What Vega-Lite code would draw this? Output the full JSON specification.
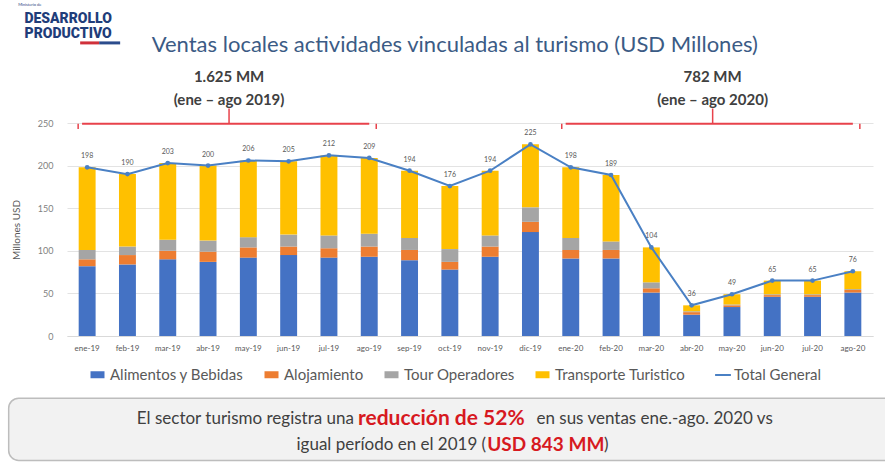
{
  "$schema": "https://vega.github.io/schema/vega-lite/v6.json",
  "width": 806,
  "height": 213,
  "autosize": {"type": "none"},
  "padding": {"left": 67, "top": 123, "right": 12, "bottom": 128},
  "background": "white",
  "config": {
    "font": "Lato",
    "view": {"stroke": null},
    "axis": {"labelFont": "Lato", "titleFont": "Lato"},
    "legend": {"labelFont": "Lato"}
  },
  "datasets": {
    "ventas": [
      {"mes": "ene-19", "categoria": "Alimentos y Bebidas", "valor": 82},
      {"mes": "ene-19", "categoria": "Alojamiento", "valor": 8},
      {"mes": "ene-19", "categoria": "Tour Operadores", "valor": 11},
      {"mes": "ene-19", "categoria": "Transporte Turistico", "valor": 97},
      {"mes": "feb-19", "categoria": "Alimentos y Bebidas", "valor": 84},
      {"mes": "feb-19", "categoria": "Alojamiento", "valor": 11},
      {"mes": "feb-19", "categoria": "Tour Operadores", "valor": 10},
      {"mes": "feb-19", "categoria": "Transporte Turistico", "valor": 85},
      {"mes": "mar-19", "categoria": "Alimentos y Bebidas", "valor": 90},
      {"mes": "mar-19", "categoria": "Alojamiento", "valor": 10},
      {"mes": "mar-19", "categoria": "Tour Operadores", "valor": 13},
      {"mes": "mar-19", "categoria": "Transporte Turistico", "valor": 90},
      {"mes": "abr-19", "categoria": "Alimentos y Bebidas", "valor": 87},
      {"mes": "abr-19", "categoria": "Alojamiento", "valor": 12},
      {"mes": "abr-19", "categoria": "Tour Operadores", "valor": 13},
      {"mes": "abr-19", "categoria": "Transporte Turistico", "valor": 88},
      {"mes": "may-19", "categoria": "Alimentos y Bebidas", "valor": 92},
      {"mes": "may-19", "categoria": "Alojamiento", "valor": 12},
      {"mes": "may-19", "categoria": "Tour Operadores", "valor": 12},
      {"mes": "may-19", "categoria": "Transporte Turistico", "valor": 90},
      {"mes": "jun-19", "categoria": "Alimentos y Bebidas", "valor": 95},
      {"mes": "jun-19", "categoria": "Alojamiento", "valor": 10},
      {"mes": "jun-19", "categoria": "Tour Operadores", "valor": 14},
      {"mes": "jun-19", "categoria": "Transporte Turistico", "valor": 86},
      {"mes": "jul-19", "categoria": "Alimentos y Bebidas", "valor": 92},
      {"mes": "jul-19", "categoria": "Alojamiento", "valor": 11},
      {"mes": "jul-19", "categoria": "Tour Operadores", "valor": 15},
      {"mes": "jul-19", "categoria": "Transporte Turistico", "valor": 94},
      {"mes": "ago-19", "categoria": "Alimentos y Bebidas", "valor": 93},
      {"mes": "ago-19", "categoria": "Alojamiento", "valor": 12},
      {"mes": "ago-19", "categoria": "Tour Operadores", "valor": 15},
      {"mes": "ago-19", "categoria": "Transporte Turistico", "valor": 89},
      {"mes": "sep-19", "categoria": "Alimentos y Bebidas", "valor": 89},
      {"mes": "sep-19", "categoria": "Alojamiento", "valor": 12},
      {"mes": "sep-19", "categoria": "Tour Operadores", "valor": 14},
      {"mes": "sep-19", "categoria": "Transporte Turistico", "valor": 79},
      {"mes": "oct-19", "categoria": "Alimentos y Bebidas", "valor": 78},
      {"mes": "oct-19", "categoria": "Alojamiento", "valor": 9},
      {"mes": "oct-19", "categoria": "Tour Operadores", "valor": 15},
      {"mes": "oct-19", "categoria": "Transporte Turistico", "valor": 74},
      {"mes": "nov-19", "categoria": "Alimentos y Bebidas", "valor": 93},
      {"mes": "nov-19", "categoria": "Alojamiento", "valor": 12},
      {"mes": "nov-19", "categoria": "Tour Operadores", "valor": 13},
      {"mes": "nov-19", "categoria": "Transporte Turistico", "valor": 76},
      {"mes": "dic-19", "categoria": "Alimentos y Bebidas", "valor": 122},
      {"mes": "dic-19", "categoria": "Alojamiento", "valor": 12},
      {"mes": "dic-19", "categoria": "Tour Operadores", "valor": 17},
      {"mes": "dic-19", "categoria": "Transporte Turistico", "valor": 74},
      {"mes": "ene-20", "categoria": "Alimentos y Bebidas", "valor": 91},
      {"mes": "ene-20", "categoria": "Alojamiento", "valor": 10},
      {"mes": "ene-20", "categoria": "Tour Operadores", "valor": 14},
      {"mes": "ene-20", "categoria": "Transporte Turistico", "valor": 83},
      {"mes": "feb-20", "categoria": "Alimentos y Bebidas", "valor": 91},
      {"mes": "feb-20", "categoria": "Alojamiento", "valor": 10},
      {"mes": "feb-20", "categoria": "Tour Operadores", "valor": 10},
      {"mes": "feb-20", "categoria": "Transporte Turistico", "valor": 78},
      {"mes": "mar-20", "categoria": "Alimentos y Bebidas", "valor": 51},
      {"mes": "mar-20", "categoria": "Alojamiento", "valor": 5},
      {"mes": "mar-20", "categoria": "Tour Operadores", "valor": 7},
      {"mes": "mar-20", "categoria": "Transporte Turistico", "valor": 41},
      {"mes": "abr-20", "categoria": "Alimentos y Bebidas", "valor": 25},
      {"mes": "abr-20", "categoria": "Alojamiento", "valor": 3},
      {"mes": "abr-20", "categoria": "Tour Operadores", "valor": 1},
      {"mes": "abr-20", "categoria": "Transporte Turistico", "valor": 7},
      {"mes": "may-20", "categoria": "Alimentos y Bebidas", "valor": 34},
      {"mes": "may-20", "categoria": "Alojamiento", "valor": 2},
      {"mes": "may-20", "categoria": "Tour Operadores", "valor": 1},
      {"mes": "may-20", "categoria": "Transporte Turistico", "valor": 12},
      {"mes": "jun-20", "categoria": "Alimentos y Bebidas", "valor": 46},
      {"mes": "jun-20", "categoria": "Alojamiento", "valor": 2},
      {"mes": "jun-20", "categoria": "Tour Operadores", "valor": 1},
      {"mes": "jun-20", "categoria": "Transporte Turistico", "valor": 16},
      {"mes": "jul-20", "categoria": "Alimentos y Bebidas", "valor": 46},
      {"mes": "jul-20", "categoria": "Alojamiento", "valor": 2},
      {"mes": "jul-20", "categoria": "Tour Operadores", "valor": 1},
      {"mes": "jul-20", "categoria": "Transporte Turistico", "valor": 16},
      {"mes": "ago-20", "categoria": "Alimentos y Bebidas", "valor": 51},
      {"mes": "ago-20", "categoria": "Alojamiento", "valor": 3},
      {"mes": "ago-20", "categoria": "Tour Operadores", "valor": 1},
      {"mes": "ago-20", "categoria": "Transporte Turistico", "valor": 21}
    ],
    "totales": [
      {"mes": "ene-19", "total": 198},
      {"mes": "feb-19", "total": 190},
      {"mes": "mar-19", "total": 203},
      {"mes": "abr-19", "total": 200},
      {"mes": "may-19", "total": 206},
      {"mes": "jun-19", "total": 205},
      {"mes": "jul-19", "total": 212},
      {"mes": "ago-19", "total": 209},
      {"mes": "sep-19", "total": 194},
      {"mes": "oct-19", "total": 176},
      {"mes": "nov-19", "total": 194},
      {"mes": "dic-19", "total": 225},
      {"mes": "ene-20", "total": 198},
      {"mes": "feb-20", "total": 189},
      {"mes": "mar-20", "total": 104},
      {"mes": "abr-20", "total": 36},
      {"mes": "may-20", "total": 49},
      {"mes": "jun-20", "total": 65},
      {"mes": "jul-20", "total": 65},
      {"mes": "ago-20", "total": 76}
    ],
    "periodos": [
      {"inicio": "ene-19", "fin": "ago-19", "medio": "abr-19", "monto": "1.625 MM", "rango": "(ene – ago 2019)"},
      {"inicio": "ene-20", "fin": "ago-20", "medio": "abr-20", "monto": "782 MM", "rango": "(ene – ago 2020)"}
    ],
    "uno": [{}]
  },
  "encoding": {
    "x": {
      "field": "mes",
      "type": "nominal",
      "scale": {
        "domain": ["ene-19","feb-19","mar-19","abr-19","may-19","jun-19","jul-19","ago-19","sep-19","oct-19","nov-19","dic-19","ene-20","feb-20","mar-20","abr-20","may-20","jun-20","jul-20","ago-20"],
        "paddingInner": 0.58, "paddingOuter": 0.29
      },
      "axis": {
        "title": null,
        "labelAngle": 0,
        "labelFontSize": 8,
        "labelColor": "#595959",
        "ticks": false,
        "labelPadding": 8,
        "domainColor": "#d9d9d9",
        "grid": false
      }
    }
  },
  "layer": [
    {
      "data": {"name": "ventas"},
      "mark": {"type": "bar"},
      "encoding": {
        "y": {
          "field": "valor",
          "type": "quantitative",
          "aggregate": "sum",
          "stack": "zero",
          "scale": {"domain": [0, 250], "nice": false},
          "axis": {
            "title": "Millones USD",
            "titleFontSize": 10,
            "titleFontWeight": "normal",
            "titleColor": "#595959",
            "titlePadding": 16,
            "values": [0, 50, 100, 150, 200, 250],
            "labelFontSize": 9,
            "labelColor": "#7f7f7f",
            "labelPadding": 14,
            "ticks": false,
            "domain": false,
            "gridColor": "#e3e3e3",
            "gridWidth": 1
          }
        },
        "order": {"field": "categoria", "sort": "ascending"},
        "color": {
          "field": "categoria",
          "type": "nominal",
          "scale": {
            "domain": ["Alimentos y Bebidas", "Alojamiento", "Tour Operadores", "Transporte Turistico"],
            "range": ["#4472C4", "#ED7D31", "#A5A5A5", "#FFC000"]
          },
          "legend": {
            "title": null,
            "orient": "none",
            "direction": "horizontal",
            "legendX": 23,
            "legendY": 244,
            "symbolType": "M-1,-0.5L1,-0.5L1,0.5L-1,0.5Z",
            "symbolSize": 196,
            "symbolStrokeWidth": 0,
            "labelFontSize": 15,
            "labelColor": "#595959",
            "labelOffset": 5,
            "columnPadding": 20
          }
        }
      }
    },
    {
      "data": {"name": "totales"},
      "mark": {"type": "line", "strokeWidth": 2},
      "encoding": {
        "y": {"field": "total", "type": "quantitative", "scale": {"domain": [0, 250], "nice": false}},
        "stroke": {
          "datum": "Total General",
          "scale": {"range": ["#4a80c4"]},
          "legend": {
            "title": null,
            "orient": "none",
            "legendX": 647,
            "legendY": 243,
            "symbolType": "stroke",
            "symbolSize": 250,
            "symbolStrokeWidth": 2,
            "labelFontSize": 15,
            "labelColor": "#595959",
            "labelOffset": 2
          }
        }
      }
    },
    {
      "data": {"name": "totales"},
      "mark": {"type": "point", "filled": true, "size": 22, "color": "#4a80c4", "opacity": 1},
      "encoding": {
        "y": {"field": "total", "type": "quantitative", "scale": {"domain": [0, 250], "nice": false}}
      }
    },
    {
      "data": {"name": "totales"},
      "mark": {"type": "text", "dy": -11, "fontSize": 7, "color": "#595959"},
      "encoding": {
        "y": {"field": "total", "type": "quantitative", "scale": {"domain": [0, 250], "nice": false}},
        "text": {"field": "total", "type": "quantitative"}
      }
    },
    {
      "data": {"name": "periodos"},
      "mark": {"type": "rule", "color": "#e8424b", "strokeWidth": 2},
      "encoding": {
        "x": {"field": "inicio", "type": "nominal", "bandPosition": 0.2},
        "x2": {"field": "fin"},
        "y": {"datum": 249, "scale": {"domain": [0, 250], "nice": false}}
      }
    },
    {
      "data": {"name": "periodos"},
      "mark": {"type": "rule", "color": "#e8424b", "strokeWidth": 1.5, "xOffset": -9},
      "encoding": {
        "x": {"field": "inicio", "type": "nominal"},
        "y": {"datum": 249, "scale": {"domain": [0, 250], "nice": false}},
        "y2": {"datum": 243}
      }
    },
    {
      "data": {"name": "periodos"},
      "mark": {"type": "rule", "color": "#e8424b", "strokeWidth": 1.5, "xOffset": 7},
      "encoding": {
        "x": {"field": "fin", "type": "nominal"},
        "y": {"datum": 249, "scale": {"domain": [0, 250], "nice": false}},
        "y2": {"datum": 243}
      }
    },
    {
      "data": {"name": "periodos"},
      "mark": {"type": "rule", "color": "#e8424b", "strokeWidth": 1.5, "xOffset": 21},
      "encoding": {
        "x": {"field": "medio", "type": "nominal"},
        "y": {"datum": 249, "scale": {"domain": [0, 250], "nice": false}},
        "y2": {"datum": 267}
      }
    },
    {
      "data": {"name": "periodos"},
      "mark": {"type": "text", "fontSize": 15, "fontWeight": "bold", "color": "#404040", "dx": 21, "baseline": "middle"},
      "encoding": {
        "x": {"field": "medio", "type": "nominal"},
        "y": {"datum": 304, "scale": {"domain": [0, 250], "nice": false}},
        "text": {"field": "monto"}
      }
    },
    {
      "data": {"name": "periodos"},
      "mark": {"type": "text", "fontSize": 15, "fontWeight": "bold", "color": "#404040", "dx": 21, "baseline": "middle"},
      "encoding": {
        "x": {"field": "medio", "type": "nominal"},
        "y": {"datum": 277, "scale": {"domain": [0, 250], "nice": false}},
        "text": {"field": "rango"}
      }
    },
    {
      "data": {"name": "uno"},
      "mark": {"type": "text", "fontSize": 22, "color": "#3b5b85", "dx": 5, "baseline": "middle", "fontWeight": "normal"},
      "encoding": {
        "x": {"datum": "oct-19"},
        "y": {"datum": 341, "scale": {"domain": [0, 250], "nice": false}},
        "text": {"value": "Ventas locales actividades vinculadas al turismo (USD Millones)"}
      }
    },
    {
      "data": {"name": "uno"},
      "mark": {"type": "text", "fontSize": 4, "color": "#1f3d7a", "dx": -69, "align": "left", "baseline": "middle"},
      "encoding": {
        "x": {"datum": "ene-19"},
        "y": {"datum": 388, "scale": {"domain": [0, 250], "nice": false}},
        "text": {"value": "Ministerio de"}
      }
    },
    {
      "data": {"name": "uno"},
      "mark": {"type": "text", "fontSize": 14, "fontWeight": 900, "color": "#1f3d7a", "dx": -19, "baseline": "middle", "font": "Roboto"},
      "encoding": {
        "x": {"datum": "ene-19"},
        "y": {"datum": 372.5, "scale": {"domain": [0, 250], "nice": false}},
        "text": {"value": "DESARROLLO"}
      }
    },
    {
      "data": {"name": "uno"},
      "mark": {"type": "text", "fontSize": 14, "fontWeight": 900, "color": "#1f3d7a", "dx": -19, "baseline": "middle", "font": "Roboto"},
      "encoding": {
        "x": {"datum": "ene-19"},
        "y": {"datum": 354, "scale": {"domain": [0, 250], "nice": false}},
        "text": {"value": "PRODUCTIVO"}
      }
    },
    {
      "data": {"name": "uno"},
      "mark": {"type": "rule", "color": "#d0303a", "strokeWidth": 3, "xOffset": -7, "x2Offset": 12},
      "encoding": {
        "x": {"datum": "ene-19"},
        "x2": {"datum": "ene-19"},
        "y": {"datum": 344, "scale": {"domain": [0, 250], "nice": false}}
      }
    },
    {
      "data": {"name": "uno"},
      "mark": {"type": "rule", "color": "#2b4c8c", "strokeWidth": 3, "xOffset": 12, "x2Offset": 33},
      "encoding": {
        "x": {"datum": "ene-19"},
        "x2": {"datum": "ene-19"},
        "y": {"datum": 344, "scale": {"domain": [0, 250], "nice": false}}
      }
    },
    {
      "data": {"name": "uno"},
      "mark": {"type": "rect", "fill": "#f2f2f2", "stroke": "#bdbdbd", "strokeWidth": 1.5, "cornerRadius": 10, "xOffset": -70, "x2Offset": 40},
      "encoding": {
        "x": {"datum": "ene-19", "bandPosition": 0},
        "x2": {"datum": "ago-20", "bandPosition": 1},
        "y": {"datum": -73, "scale": {"domain": [0, 250], "nice": false}},
        "y2": {"datum": -146}
      }
    },
    {
      "data": {"name": "uno"},
      "mark": {"type": "text", "fontSize": 17, "color": "#404040", "align": "right", "baseline": "middle", "dx": 25},
      "encoding": {
        "x": {"datum": "jul-19"},
        "y": {"datum": -97, "scale": {"domain": [0, 250], "nice": false}},
        "text": {"value": "El sector turismo registra una"}
      }
    },
    {
      "data": {"name": "uno"},
      "mark": {"type": "text", "fontSize": 21, "fontWeight": "bold", "color": "#d7191f", "align": "left", "baseline": "middle", "dx": 29},
      "encoding": {
        "x": {"datum": "jul-19"},
        "y": {"datum": -97, "scale": {"domain": [0, 250], "nice": false}},
        "text": {"value": "reducción de 52%"}
      }
    },
    {
      "data": {"name": "uno"},
      "mark": {"type": "text", "fontSize": 17, "color": "#404040", "align": "left", "baseline": "middle", "dx": 6},
      "encoding": {
        "x": {"datum": "dic-19"},
        "y": {"datum": -97, "scale": {"domain": [0, 250], "nice": false}},
        "text": {"value": "en sus ventas ene.-ago. 2020 vs"}
      }
    },
    {
      "data": {"name": "uno"},
      "mark": {"type": "text", "fontSize": 17, "color": "#404040", "align": "right", "baseline": "middle", "dx": -4},
      "encoding": {
        "x": {"datum": "nov-19"},
        "y": {"datum": -128, "scale": {"domain": [0, 250], "nice": false}},
        "text": {"value": "igual período en el 2019 ("}
      }
    },
    {
      "data": {"name": "uno"},
      "mark": {"type": "text", "fontSize": 19, "fontWeight": "bold", "color": "#d7191f", "align": "left", "baseline": "middle", "dx": -3},
      "encoding": {
        "x": {"datum": "nov-19"},
        "y": {"datum": -128, "scale": {"domain": [0, 250], "nice": false}},
        "text": {"value": "USD 843 MM"}
      }
    },
    {
      "data": {"name": "uno"},
      "mark": {"type": "text", "fontSize": 17, "color": "#404040", "align": "left", "baseline": "middle", "dx": -7},
      "encoding": {
        "x": {"datum": "feb-20"},
        "y": {"datum": -128, "scale": {"domain": [0, 250], "nice": false}},
        "text": {"value": ")"}
      }
    }
  ],
  "resolve": {"scale": {"y": "shared"}}
}
